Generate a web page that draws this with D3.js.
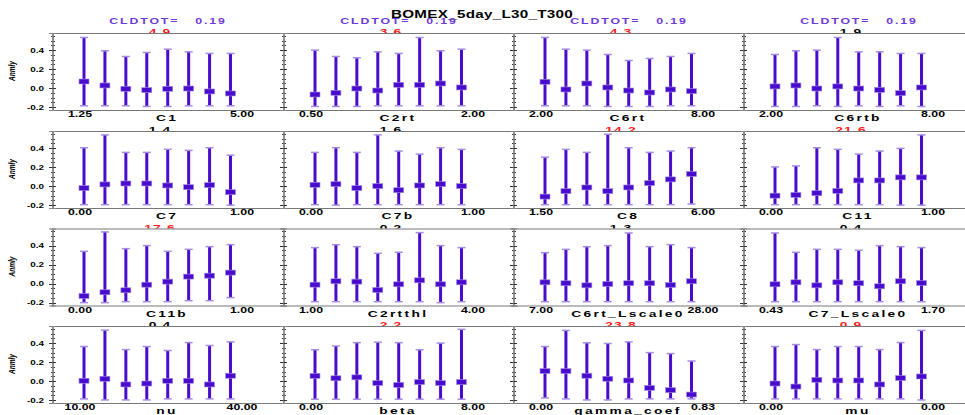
<!DOCTYPE html>
<html>
<head>
<meta charset="utf-8">
<style>
  body { margin: 0; background: #fff; }
  text { font-family: "Liberation Sans", Arial, sans-serif; }
  .tick line { shape-rendering: crispEdges; }
</style>
<script src="https://d3js.org/d3.v7.min.js"></script>
</head>
<body>
<script>
// parameter names (panel titles), read row by row
var params = ["C1", "C2rt", "C6rt", "C6rtb",
              "C7", "C7b", "C8", "C11",
              "C11b", "C2rtthl", "C6rt_Lscale0", "C7_Lscale0",
              "nu", "beta", "gamma_coef", "mu"];
var lowLabels  = ["1.25", "0.50", "2.00", "2.00", "0.00", "0.00", "1.50", "0.00",
                  "0.00", "1.00", "7.00", "0.43", "10.00", "0.00", "0.00", "0.00"];
var highLabels = ["5.00", "2.00", "8.00", "8.00", "1.00", "1.00", "6.00", "1.00",
                  "1.00", "4.00", "28.00", "1.70", "40.00", "8.00", "0.83", "0.00"];
var topValues = ["4.9", "3.6", "4.3", "1.9", "1.4", "1.6", "14.2", "21.6",
                 "17.6", "0.2", "1.3", "0.4", "0.4", "2.2", "23.8", "0.9"];
var topRed = [1, 1, 1, 0, 0, 0, 1, 1, 1, 0, 0, 0, 0, 1, 1, 1];
var cldtot = "0.19";

// bar centre values
var means = [
  [0.07, 0.028, -0.007, -0.021, -0.007, -0.004, -0.035, -0.056],
  [-0.067, -0.049, -0.004, -0.025, 0.035, 0.035, 0.049, 0.007],
  [0.067, -0.014, 0.049, 0.007, -0.025, -0.046, -0.014, -0.032],
  [0.018, 0.028, -0.004, 0.018, -0.004, -0.018, -0.053, 0.007],
  [-0.021, 0.018, 0.028, 0.028, 0.007, -0.011, 0.011, -0.064],
  [0.014, 0.021, -0.021, 0.0, -0.043, 0.007, 0.021, 0.0],
  [-0.11, -0.053, -0.014, -0.053, -0.014, 0.032, 0.071, 0.128],
  [-0.1, -0.092, -0.074, -0.05, 0.06, 0.06, 0.092, 0.092],
  [-0.13, -0.091, -0.07, -0.011, 0.021, 0.074, 0.084, 0.116],
  [-0.011, 0.025, 0.021, -0.067, -0.007, 0.035, -0.007, 0.014],
  [0.014, 0.004, -0.018, -0.004, 0.004, 0.004, -0.014, 0.025],
  [-0.007, 0.014, -0.018, 0.014, 0.004, -0.028, 0.025, 0.007],
  [0.004, 0.025, -0.035, -0.025, 0.004, 0.004, -0.035, 0.057],
  [0.055, 0.03, 0.04, -0.02, -0.04, -0.01, -0.02, -0.01],
  [0.106, 0.106, 0.057, 0.025, 0.007, -0.071, -0.095, -0.141],
  [-0.025, -0.057, 0.014, 0.007, 0.007, -0.035, 0.032, 0.049]
];
// upper ends of the bars
var uppers = [
  [0.533, 0.393, 0.333, 0.375, 0.41, 0.382, 0.365, 0.365],
  [0.40, 0.333, 0.319, 0.382, 0.365, 0.533, 0.393, 0.41],
  [0.533, 0.41, 0.40, 0.354, 0.291, 0.312, 0.333, 0.365],
  [0.354, 0.393, 0.40, 0.533, 0.382, 0.382, 0.365, 0.365],
  [0.404, 0.539, 0.355, 0.355, 0.387, 0.376, 0.404, 0.326],
  [0.355, 0.404, 0.355, 0.539, 0.369, 0.337, 0.404, 0.387],
  [0.305, 0.387, 0.355, 0.546, 0.404, 0.355, 0.369, 0.404],
  [0.202, 0.213, 0.404, 0.387, 0.337, 0.369, 0.397, 0.539],
  [0.34, 0.544, 0.368, 0.40, 0.34, 0.361, 0.389, 0.41],
  [0.379, 0.41, 0.389, 0.319, 0.33, 0.537, 0.40, 0.379],
  [0.326, 0.361, 0.389, 0.40, 0.533, 0.389, 0.41, 0.379],
  [0.533, 0.33, 0.361, 0.361, 0.351, 0.40, 0.389, 0.379],
  [0.364, 0.537, 0.332, 0.364, 0.322, 0.406, 0.375, 0.413],
  [0.33, 0.37, 0.405, 0.41, 0.405, 0.33, 0.40, 0.545],
  [0.364, 0.534, 0.403, 0.396, 0.413, 0.30, 0.29, 0.212],
  [0.364, 0.385, 0.332, 0.364, 0.364, 0.332, 0.406, 0.534]
];
// lower ends of the bars
var lowers = [
  [-0.186, -0.186, -0.186, -0.193, -0.193, -0.186, -0.186, -0.186],
  [-0.193, -0.193, -0.193, -0.186, -0.186, -0.186, -0.186, -0.186],
  [-0.186, -0.186, -0.186, -0.193, -0.193, -0.193, -0.186, -0.186],
  [-0.193, -0.193, -0.186, -0.193, -0.186, -0.193, -0.186, -0.193],
  [-0.195, -0.195, -0.195, -0.195, -0.195, -0.195, -0.195, -0.20],
  [-0.195, -0.20, -0.195, -0.195, -0.195, -0.195, -0.195, -0.195],
  [-0.195, -0.195, -0.20, -0.195, -0.195, -0.195, -0.195, -0.188],
  [-0.195, -0.195, -0.195, -0.195, -0.195, -0.195, -0.20, -0.20],
  [-0.20, -0.20, -0.19, -0.19, -0.19, -0.179, -0.179, -0.147],
  [-0.19, -0.19, -0.19, -0.19, -0.19, -0.19, -0.20, -0.19],
  [-0.19, -0.19, -0.19, -0.19, -0.19, -0.19, -0.19, -0.19],
  [-0.19, -0.19, -0.19, -0.19, -0.19, -0.19, -0.19, -0.19],
  [-0.187, -0.198, -0.198, -0.198, -0.187, -0.187, -0.187, -0.187],
  [-0.19, -0.19, -0.19, -0.19, -0.19, -0.19, -0.19, -0.19],
  [-0.177, -0.187, -0.198, -0.198, -0.187, -0.187, -0.187, -0.187],
  [-0.187, -0.187, -0.187, -0.187, -0.187, -0.187, -0.187, -0.198]
];
var yMajor = [-0.2, 0.0, 0.2, 0.4];
var yMinor = [-0.15, -0.1, -0.05, 0.05, 0.1, 0.15, 0.25, 0.3, 0.35, 0.45, 0.5, 0.55];

var W = 965, H = 415;
var colLeft = [52, 283, 513, 743];
var rowTop = [33, 131, 228.5, 326];
var panelW = 230, panelH = 77;
var sx = 1.45;   // the original's lettering is stretched sideways

var barColor = "#4a0ccc", capColor = "#a58de6";

var svg = d3.select("body").append("svg")
    .attr("width", W)
    .attr("height", H);

// text drawn at (x, y) and widened by sx
function stext(sel, x, y, size, bold) {
    return sel.append("text")
        .attr("transform", "translate(" + x + "," + y + ") scale(" + sx + ",1)")
        .style("font-size", size + "px")
        .style("font-weight", bold ? "bold" : "normal");
}

stext(svg, 482, 18, 10.5, true)
    .attr("text-anchor", "middle")
    .style("letter-spacing", "0.2px")
    .text("BOMEX_5day_L30_T300");

params.forEach(function(name, k) {
    var r = Math.floor(k / 4), c = k % 4;
    var left = colLeft[c], top = rowTop[r];

    var x = d3.scaleLinear().domain([0, 7]).range([left + 32, left + 178.5]);
    var y = d3.scaleLinear().domain([-0.23, 0.58]).range([top + panelH, top]);

    var g = svg.append("g");

    // CLDTOT only above the first row
    if (r === 0) {
        stext(g, left + 116, 24, 8.5, true)
            .attr("text-anchor", "middle")
            .attr("fill", "#6b3ad8")
            .style("letter-spacing", "1.3px")
            .style("white-space", "pre")
            .text("CLDTOT=   " + cldtot);
    }

    // number above the panel, partly hidden by the plot area
    stext(g, left + 108, top + 2, 9.5, true)
        .attr("text-anchor", "middle")
        .attr("fill", topRed[k] ? "#ff1a1a" : "#000")
        .style("letter-spacing", "0.8px")
        .text(topValues[k]);

    g.append("rect")
        .attr("x", left).attr("y", top)
        .attr("width", panelW).attr("height", panelH)
        .attr("fill", "#fff");

    // frame: top and bottom lines
    g.append("line")
        .attr("x1", left).attr("x2", left + panelW + 1)
        .attr("y1", top + 0.5).attr("y2", top + 0.5)
        .attr("stroke", "#777");
    g.append("line")
        .attr("x1", left).attr("x2", left + panelW + 1)
        .attr("y1", top + panelH + 0.5).attr("y2", top + panelH + 0.5)
        .attr("stroke", "#777");

    // y axes on both sides, ticks crossing the line
    [left, left + panelW + 1].forEach(function(ax) {
        var a = g.append("g").attr("transform", "translate(" + (Math.round(ax) + 0.5) + ",0)");
        a.append("g").call(d3.axisLeft(y).tickValues(yMinor).tickSize(2).tickFormat(""));
        a.append("g").call(d3.axisRight(y).tickValues(yMinor).tickSize(2).tickFormat(""));
        a.append("g").call(d3.axisLeft(y).tickValues(yMajor).tickSize(3.5).tickFormat(""));
        a.append("g").call(d3.axisRight(y).tickValues(yMajor).tickSize(3.5).tickFormat(""));
        a.selectAll(".domain").attr("stroke", "#888");
        a.selectAll(".tick line").attr("stroke", "#333");
    });

    if (c === 0) {
        yMajor.forEach(function(v) {
            stext(g, 44, y(v) + 2.5, 6.8, true)
                .attr("text-anchor", "end")
                .text(v.toFixed(1));
        });

        g.append("text")
            .attr("transform", "translate(15," + (top + 38) + ") rotate(-90) scale(1," + sx + ")")
            .attr("text-anchor", "middle")
            .style("font-size", "6.5px").style("font-weight", "bold")
            .style("font-style", "italic")
            .text("Anmly");
    }

    // bars
    var idx = d3.range(means[k].length);
    var bars = g.append("g").selectAll("g").data(idx).enter().append("g");
    bars.append("line")
        .attr("x1", function(i) { return x(i); }).attr("x2", function(i) { return x(i); })
        .attr("y1", function(i) { return y(lowers[k][i]); })
        .attr("y2", function(i) { return y(uppers[k][i]); })
        .attr("stroke", barColor).attr("stroke-width", 3);
    bars.selectAll(".cap")
        .data(function(i) { return [[i, lowers[k][i]], [i, uppers[k][i]]]; })
        .enter().append("line")
        .attr("x1", function(d) { return x(d[0]) - 4; })
        .attr("x2", function(d) { return x(d[0]) + 4; })
        .attr("y1", function(d) { return y(d[1]); })
        .attr("y2", function(d) { return y(d[1]); })
        .attr("stroke", capColor).attr("stroke-width", 1.5);
    bars.append("rect")
        .attr("x", function(i) { return x(i) - 5; })
        .attr("y", function(i) { return y(means[k][i]) - 2.5; })
        .attr("width", 10).attr("height", 5)
        .attr("fill", barColor)
        .attr("stroke", capColor).attr("stroke-width", 0.6);

    // x labels
    var xl = d3.scaleLinear().domain([0, 1]).range([left + 28, left + 190]);
    stext(g, xl(0), top + panelH + 7, 8.5, true)
        .attr("text-anchor", "middle")
        .text(lowLabels[k]);
    stext(g, xl(1), top + panelH + 7, 8.5, true)
        .attr("text-anchor", "middle")
        .text(highLabels[k]);
    stext(g, left + 115, top + panelH + 11, 9.5, true)
        .attr("text-anchor", "middle")
        .style("letter-spacing", "1.6px")
        .text(name);
});
</script>
</body>
</html>
